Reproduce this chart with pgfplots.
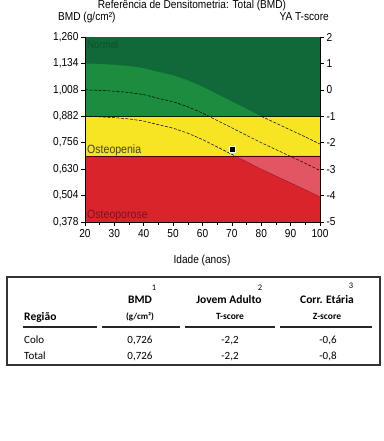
\documentclass[border=0pt]{standalone}
\usepackage{fontspec}
\setmainfont[FakeStretch=0.88]{Liberation Sans}
\newfontfamily\tabfont{Carlito}
\usepackage{pgfplots}
\pgfplotsset{compat=1.18}
\definecolor{dkgreen}{RGB}{17,104,56}
\definecolor{ltgreen}{RGB}{28,140,62}
\definecolor{ylw}{RGB}{247,228,34}
\definecolor{rd}{RGB}{217,36,44}
\definecolor{pnk}{RGB}{226,86,100}
\definecolor{txtgreen}{RGB}{10,84,44}
\definecolor{txtred}{RGB}{125,18,40}
\begin{document}
\begin{tikzpicture}[x=1pt,y=1pt]
\path[use as bounding box] (0,0) rectangle (383,441);
\begin{axis}[
  at={(85pt,219pt)}, anchor=south west, scale only axis,
  width=235pt, height=185pt,
  xmin=20, xmax=100, ymin=0.378, ymax=1.260,
  axis x line*=bottom, axis y line*=left,
  axis on top=true,
  tick align=outside,
  major tick length=4pt, minor tick length=3pt,
  xtick={20,30,...,100}, minor xtick={25,35,...,95},
  ytick={0.378,0.504,0.630,0.756,0.882,1.008,1.134,1.260},
  yticklabels={{0,378},{0,504},{0,630},{0,756},{0,882},{1,008},{1,134},{1,260}},
  xticklabels={20,30,40,50,60,70,80,90,100},
  tick label style={font=\fontsize{11.5}{13}\selectfont},
  yticklabel style={xshift=1pt},
  axis line style={black, line width=0.6pt},
  tick style={black, line width=0.6pt},
]
% background bands
\addplot[fill=dkgreen, draw=none] coordinates {(20,0.882) (100,0.882) (100,1.260) (20,1.260)} -- cycle;
\addplot[fill=ylw, draw=none] coordinates {(20,0.693) (100,0.693) (100,0.882) (20,0.882)} -- cycle;
\addplot[fill=rd, draw=none] coordinates {(20,0.378) (100,0.378) (100,0.693) (20,0.693)} -- cycle;
% age-matched band (+1 SD to -1 SD) inside normal zone
\addplot[fill=ltgreen, draw=none] coordinates {
 (20,1.1340) (25,1.1315) (30,1.1277) (35,1.1214) (40,1.1113) (45,1.0937)
 (50,1.0773) (55,1.0534) (60,1.0231) (65,0.9878) (70,0.9526) (75,0.9173)
 (80,0.8820) (20,0.8820)} -- cycle;
% age-matched band inside osteoporosis zone
\addplot[fill=pnk, draw=none] coordinates {
 (71.1,0.6930) (75,0.6653) (80,0.6300) (85,0.5972) (90,0.5645) (95,0.5317)
 (100,0.4977) (100,0.6930)} -- cycle;
% zone borders
\addplot[black!85!green, line width=0.7pt] coordinates {(20,0.882) (100,0.882)};
\addplot[black!70!red, line width=0.7pt] coordinates {(20,0.693) (100,0.693)};
% mean curve
\addplot[black, line width=0.5pt, dash pattern=on 3pt off 1.5pt] coordinates {
 (20,1.0080) (25,1.0055) (30,1.0017) (35,0.9954) (40,0.9853) (45,0.9677)
 (50,0.9513) (55,0.9274) (60,0.8971) (65,0.8618) (70,0.8266) (75,0.7913)
 (80,0.7560) (85,0.7232) (90,0.6905) (95,0.6577) (100,0.6237)};
% +1 SD curve (in osteopenia zone)
\addplot[black, line width=0.5pt, dash pattern=on 3pt off 1.5pt] coordinates {
 (80,0.8820) (85,0.8492) (90,0.8165) (95,0.7837) (100,0.7497)};
% -1 SD curve
\addplot[black, line width=0.5pt, dash pattern=on 3pt off 1.5pt] coordinates {
 (20,0.8820) (25,0.8795) (30,0.8757) (35,0.8694) (40,0.8593) (45,0.8417)
 (50,0.8253) (55,0.8014) (60,0.7711) (65,0.7358) (70,0.7006) (71.1,0.6930)};
\addplot[black!60!red, opacity=0.6, line width=0.4pt] coordinates {
 (71.1,0.6930) (75,0.6653) (80,0.6300) (85,0.5972) (90,0.5645) (95,0.5317) (100,0.4977)};
% patient
\addplot[only marks, mark=square*, mark size=3pt,
  mark options={fill=black, draw=white!85!yellow, line width=0.7pt}] coordinates {(70,0.726)};
\end{axis}
\begin{axis}[
  at={(85pt,219pt)}, anchor=south west, scale only axis,
  width=235pt, height=185pt,
  xmin=20, xmax=100, ymin=-5, ymax=2,
  axis y line*=right, axis x line=none,
  tick align=outside, major tick length=4pt,
  ytick={-5,-4,-3,-2,-1,0,1,2},
  yticklabels={-5,-4,-3,-2,-1,0,1,2},
  tick label style={font=\fontsize{11.5}{13}\selectfont},
  yticklabel style={xshift=-1pt},
  axis line style={black, line width=0.6pt},
  tick style={black, line width=0.6pt},
]
\addplot[draw=none] coordinates {(20,0)};
\end{axis}
% chart texts
\node[anchor=base, inner sep=0, font=\fontsize{11.5}{13}\selectfont] at (192,432) {Referência de Densitometria: Total (BMD)};
\node[anchor=base west, inner sep=0, font=\fontsize{11.5}{13}\selectfont] at (58,420) {BMD (g/cm²)};
\node[anchor=base east, inner sep=0, font=\fontsize{11.5}{13}\selectfont] at (329,420) {YA T-score};
\node[anchor=base, inner sep=0, font=\fontsize{11.5}{13}\selectfont] at (202,177) {Idade (anos)};
\node[anchor=base west, inner sep=0, text=txtgreen, font=\fontsize{11}{12}\selectfont] at (87,392) {Normal};
\node[anchor=base west, inner sep=0, text=black!85!yellow, font=\fontsize{12}{13}\selectfont] at (87,287) {Osteopenia};
\node[anchor=base west, inner sep=0, text=txtred, font=\fontsize{12}{13}\selectfont] at (87,222) {Osteoporose};
% table
\draw[black!80, line width=1.1pt] (7,76) rectangle (380,164);
\node[anchor=base, inner sep=0, font=\tabfont\fontsize{8.5}{9}\selectfont] at (154,150) {1};
\node[anchor=base, inner sep=0, font=\tabfont\fontsize{8.5}{9}\selectfont] at (260,150) {2};
\node[anchor=base, inner sep=0, font=\tabfont\fontsize{8.5}{9}\selectfont] at (351,152) {3};
\node[anchor=base, inner sep=0, font=\tabfont\bfseries\fontsize{11.5}{13}\selectfont] at (140,137) {BMD};
\node[anchor=base, inner sep=0, font=\tabfont\bfseries\fontsize{11.5}{13}\selectfont] at (229,137) {Jovem Adulto};
\node[anchor=base, inner sep=0, font=\tabfont\bfseries\fontsize{11.5}{13}\selectfont] at (327,137) {Corr. Etária};
\node[anchor=base west, inner sep=0, font=\tabfont\bfseries\fontsize{11.5}{13}\selectfont] at (24,120) {Região};
\node[anchor=base, inner sep=0, font=\tabfont\bfseries\fontsize{9}{10}\selectfont] at (140,121) {(g/cm²)};
\node[anchor=base, inner sep=0, font=\tabfont\bfseries\fontsize{9.5}{10}\selectfont] at (230,121) {T-score};
\node[anchor=base, inner sep=0, font=\tabfont\bfseries\fontsize{9.5}{10}\selectfont] at (327,121) {Z-score};
\draw[black!85, line width=2pt] (23,114) -- (97,114);
\draw[black!85, line width=2pt] (102,114) -- (180,114);
\draw[black!85, line width=2pt] (185,114) -- (275,114);
\draw[black!85, line width=2pt] (280,114) -- (372,114);
\node[anchor=base west, inner sep=0, font=\tabfont\fontsize{11}{13}\selectfont] at (24,97) {Colo};
\node[anchor=base west, inner sep=0, font=\tabfont\fontsize{11}{13}\selectfont] at (24,81) {Total};
\node[anchor=base, inner sep=0, font=\tabfont\fontsize{11}{13}\selectfont] at (140,97) {0,726};
\node[anchor=base, inner sep=0, font=\tabfont\fontsize{11}{13}\selectfont] at (140,81) {0,726};
\node[anchor=base, inner sep=0, font=\tabfont\fontsize{11}{13}\selectfont] at (230,97) {-2,2};
\node[anchor=base, inner sep=0, font=\tabfont\fontsize{11}{13}\selectfont] at (230,81) {-2,2};
\node[anchor=base, inner sep=0, font=\tabfont\fontsize{11}{13}\selectfont] at (328,97) {-0,6};
\node[anchor=base, inner sep=0, font=\tabfont\fontsize{11}{13}\selectfont] at (328,81) {-0,8};
\end{tikzpicture}
\end{document}
